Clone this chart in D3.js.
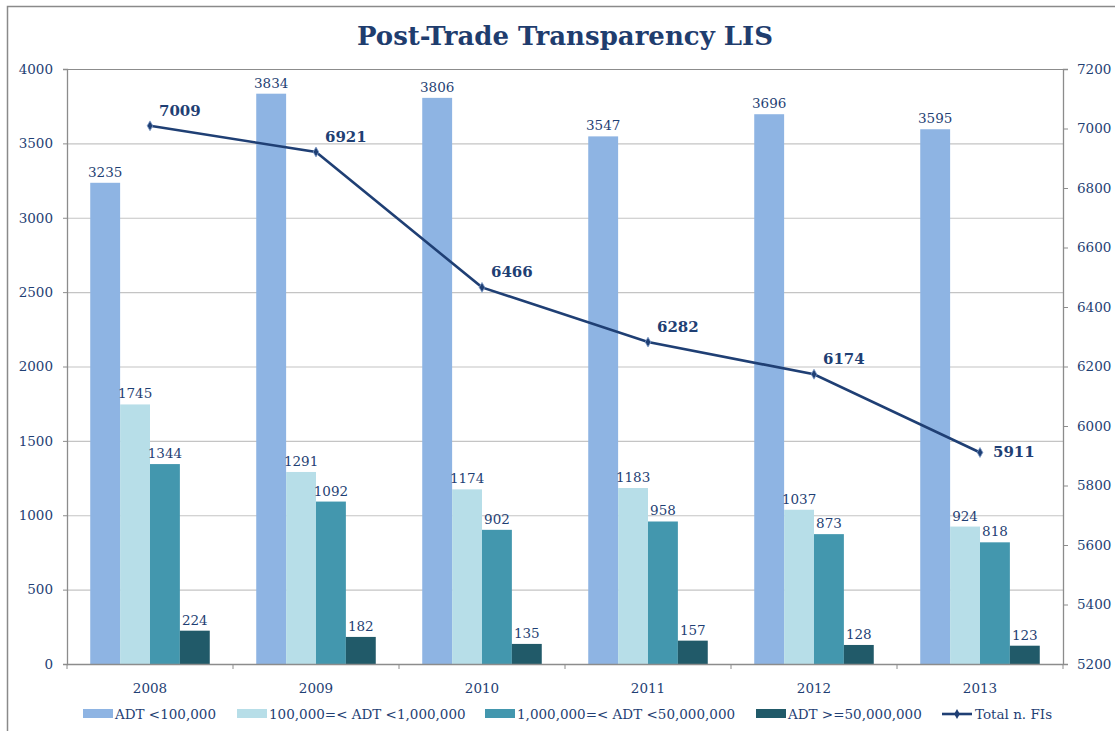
<!DOCTYPE html>
<html>
<head>
<meta charset="utf-8">
<script src="https://cdn.jsdelivr.net/npm/d3@7"></script>
<style>
  body { margin: 0; background: #fff; }
  svg text { font-family: "DejaVu Serif", Georgia, serif; fill: #1f3f74; }
</style>
</head>
<body>
<svg class="js-chart" width="1115" height="731"></svg>
<script>
var years = ['2008', '2009', '2010', '2011', '2012', '2013'],
    seriesNames = ['ADT <100,000', '100,000=< ADT <1,000,000', '1,000,000=< ADT <50,000,000', 'ADT >=50,000,000'],
    adtUnder100k = [3235, 3834, 3806, 3547, 3696, 3595],
    adt100kTo1m = [1745, 1291, 1174, 1183, 1037, 924],
    adt1mTo50m = [1344, 1092, 902, 958, 873, 818],
    adtOver50m = [224, 182, 135, 157, 128, 123],
    totalFIs = [7009, 6921, 6466, 6282, 6174, 5911],
    leftTicks = [0, 500, 1000, 1500, 2000, 2500, 3000, 3500, 4000],
    rightTicks = [5200, 5400, 5600, 5800, 6000, 6200, 6400, 6600, 6800, 7000, 7200],
    colors = ['#8eb4e3', '#b7dee8', '#4397ae', '#215a69'],
    LINE_COLOR = '#1f3f74';

var barSeries = [adtUnder100k, adt100kTo1m, adt1mTo50m, adtOver50m];

var svg = d3.select('.js-chart'),
    plotLeft = 67, plotRight = 1063, plotTop = 69, plotBottom = 664;

// frame
svg.append('rect')
    .attr('x', 7.5).attr('y', 6.5)
    .attr('width', 1120).attr('height', 740)
    .attr('fill', 'none').attr('stroke', '#8a8a8a').attr('stroke-width', 1.5);

svg.append('text')
    .attr('x', 565).attr('y', 45)
    .attr('text-anchor', 'middle')
    .style('font-size', '26px').style('font-weight', 'bold')
    .style('fill', '#1f3d6e')
    .text('Post-Trade Transparency LIS');

var x0 = d3.scaleBand().domain(years).range([plotLeft, plotRight]),
    x1 = d3.scaleBand().domain(d3.range(4))
      .range([x0.bandwidth() * 0.14, x0.bandwidth() * 0.86]),
    y = d3.scaleLinear().domain([0, 4000]).range([plotBottom, plotTop]),
    y2 = d3.scaleLinear().domain([5200, 7200]).range([plotBottom, plotTop]);

// gridlines
svg.append('g').selectAll('line')
    .data(leftTicks.slice(1))
    .enter().append('line')
    .attr('x1', plotLeft).attr('x2', plotRight)
    .attr('y1', function(d) { return y(d) + 0.5; })
    .attr('y2', function(d) { return y(d) + 0.5; })
    .attr('stroke', function(d) { return d === 4000 ? '#8c8c8c' : '#c4c4c4'; })
    .attr('stroke-width', 1.2);

// bars
var groups = svg.append('g').selectAll('g')
    .data(years)
    .enter().append('g')
    .attr('transform', function(d) { return 'translate(' + x0(d) + ',0)'; });

groups.selectAll('rect')
    .data(function(d, i) { return barSeries.map(function(s, k) { return {k: k, v: s[i]}; }); })
    .enter().append('rect')
    .attr('x', function(d) { return x1(d.k); })
    .attr('width', x1.bandwidth())
    .attr('y', function(d) { return y(d.v); })
    .attr('height', function(d) { return plotBottom - y(d.v); })
    .attr('fill', function(d) { return colors[d.k]; });

groups.selectAll('text')
    .data(function(d, i) { return barSeries.map(function(s, k) { return {k: k, v: s[i]}; }); })
    .enter().append('text')
    .attr('x', function(d) { return x1(d.k) + x1.bandwidth() / 2; })
    .attr('y', function(d) { return y(d.v) - 6; })
    .attr('text-anchor', 'middle')
    .style('font-size', '13.5px')
    .text(function(d) { return d.v; });

// axes
var axisColor = '#8c8c8c';
var leftAxis = svg.append('g')
    .attr('transform', 'translate(' + plotLeft + ',0)')
    .call(d3.axisLeft(y).tickValues(leftTicks).tickFormat(d3.format('d')).tickSize(4).tickPadding(10));
var rightAxis = svg.append('g')
    .attr('transform', 'translate(' + plotRight + ',0)')
    .call(d3.axisRight(y2).tickValues(rightTicks).tickFormat(d3.format('d')).tickSize(5).tickPadding(9));
var bottomAxis = svg.append('g')
    .attr('transform', 'translate(0,' + plotBottom + ')')
    .call(d3.axisBottom(x0).tickSize(0).tickPadding(19));

[leftAxis, rightAxis, bottomAxis].forEach(function(a) {
  a.select('.domain').attr('stroke', axisColor).attr('stroke-width', 1.3);
  a.selectAll('.tick line').attr('stroke', axisColor);
  a.selectAll('.tick text').style('font-size', '13.5px')
      .style('font-family', '"DejaVu Serif", Georgia, serif').attr('fill', '#1f3f74');
});
bottomAxis.select('.domain').attr('d', 'M' + plotLeft + ',0.5H' + plotRight);

// category boundary ticks
svg.append('g').selectAll('line')
    .data(years.concat(['end']))
    .enter().append('line')
    .attr('x1', function(d, i) { return i < years.length ? x0(d) : plotRight; })
    .attr('x2', function(d, i) { return i < years.length ? x0(d) : plotRight; })
    .attr('y1', plotBottom).attr('y2', plotBottom + 5)
    .attr('stroke', axisColor);

// total FIs line
var cx = function(d, i) { return x0(years[i]) + x0.bandwidth() / 2; };
svg.append('path')
    .datum(totalFIs)
    .attr('fill', 'none')
    .attr('stroke', LINE_COLOR)
    .attr('stroke-width', 2.6)
    .attr('d', d3.line().x(cx).y(function(d) { return y2(d); }));

svg.append('g').selectAll('path')
    .data(totalFIs)
    .enter().append('path')
    .attr('transform', function(d, i) { return 'translate(' + cx(d, i) + ',' + y2(d) + ')'; })
    .attr('d', d3.symbol().type(d3.symbolDiamond).size(28))
    .attr('fill', LINE_COLOR)
    .attr('stroke', '#7f9cc9').attr('stroke-width', 0.8);

svg.append('g').selectAll('text')
    .data(totalFIs)
    .enter().append('text')
    .attr('x', function(d, i) { return cx(d, i) + (i === totalFIs.length - 1 ? 13 : 9); })
    .attr('y', function(d, i) { return y2(d) + (i === totalFIs.length - 1 ? 5 : -10); })
    .style('font-size', '15px').style('font-weight', 'bold')
    .text(function(d) { return d; });

// legend
var legendX = [83, 237, 485, 756],
    legendY = 714;
var legend = svg.append('g');
seriesNames.forEach(function(name, k) {
  legend.append('rect')
      .attr('x', legendX[k]).attr('y', legendY - 5)
      .attr('width', 30).attr('height', 9)
      .attr('fill', colors[k]);
  legend.append('text')
      .attr('x', legendX[k] + 32).attr('y', legendY + 5)
      .style('font-size', '13.5px')
      .text(name);
});
legend.append('line')
    .attr('x1', 942).attr('x2', 972)
    .attr('y1', legendY).attr('y2', legendY)
    .attr('stroke', LINE_COLOR).attr('stroke-width', 2.6);
legend.append('path')
    .attr('transform', 'translate(957,' + legendY + ')')
    .attr('d', d3.symbol().type(d3.symbolDiamond).size(28))
    .attr('fill', LINE_COLOR);
legend.append('text')
    .attr('x', 975).attr('y', legendY + 5)
    .style('font-size', '13.5px')
    .text('Total n. FIs');
</script>
</body>
</html>
